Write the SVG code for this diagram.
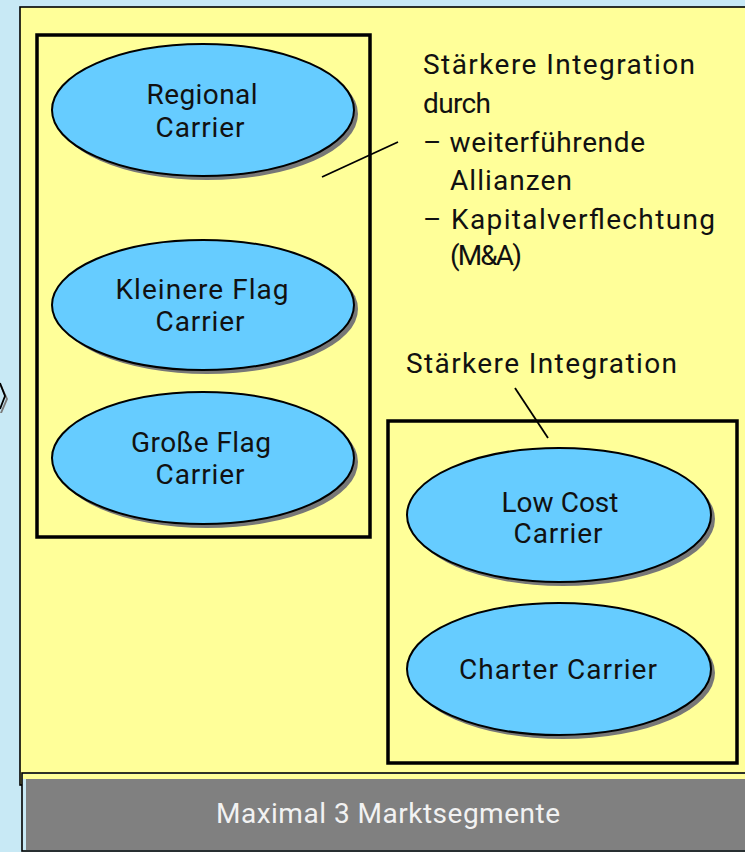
<svg xmlns="http://www.w3.org/2000/svg" width="745" height="852" viewBox="0 0 745 852">
<style>
.t{font-family:Roboto,"DejaVu Sans","Liberation Sans",sans-serif;font-size:28px;fill:#111}
.c{text-anchor:middle}
.el{fill:#66ccff;stroke:#000;stroke-width:2}
.sh{fill:#777}
.box{fill:none;stroke:#000;stroke-width:3.5}
.ln{stroke:#000;stroke-width:1.8;fill:none}
</style>
<rect x="0" y="0" width="745" height="852" fill="#c8e9f5"/>
<g id="chevron">
<polygon points="0,386 6,399 0,413 2,413 8,399 2,386" fill="#7a7a7a"/>
<polyline points="0,383 5,396 0,409" class="ln"/>
</g>
<g id="panel">
<rect x="20" y="7" width="740" height="778" fill="#ffff99" stroke="#000" stroke-width="1.6"/>
</g>
<g id="group-left">
<rect x="37" y="35" width="333" height="502" class="box"/>
</g>
<g id="group-right">
<rect x="388" y="421" width="349" height="342" class="box"/>
</g>
<g id="connectors">
<line x1="322" y1="177" x2="398" y2="142" class="ln"/>
<line x1="515" y1="388" x2="548" y2="438" class="ln"/>
</g>
<g id="n-regional">
<ellipse cx="207" cy="114" rx="151" ry="66" class="sh"/>
<ellipse cx="203" cy="110" rx="151" ry="66" class="el"/>
<text class="t c" x="202" y="104" textLength="111">Regional</text>
<text class="t c" x="200" y="137" textLength="89">Carrier</text>
</g>
<g id="n-kleinere">
<ellipse cx="207" cy="309" rx="151" ry="65" class="sh"/>
<ellipse cx="203" cy="305" rx="151" ry="65" class="el"/>
<text class="t c" x="202" y="299" textLength="173">Kleinere Flag</text>
<text class="t c" x="200" y="331" textLength="89">Carrier</text>
</g>
<g id="n-grosse">
<ellipse cx="207" cy="462" rx="151" ry="66" class="sh"/>
<ellipse cx="203" cy="458" rx="151" ry="66" class="el"/>
<text class="t c" x="201" y="452" textLength="140">Große Flag</text>
<text class="t c" x="200" y="484" textLength="89">Carrier</text>
</g>
<g id="n-lowcost">
<ellipse cx="563" cy="519" rx="152" ry="67" class="sh"/>
<ellipse cx="559" cy="515" rx="152" ry="67" class="el"/>
<text class="t c" x="560" y="512" textLength="117">Low Cost</text>
<text class="t c" x="558" y="543" textLength="89">Carrier</text>
</g>
<g id="n-charter">
<ellipse cx="563" cy="673" rx="152" ry="66" class="sh"/>
<ellipse cx="559" cy="669" rx="152" ry="66" class="el"/>
<text class="t c" x="558" y="679" textLength="198">Charter Carrier</text>
</g>
<g id="label-top">
<text class="t" x="423" y="74" textLength="272">Stärkere Integration</text>
<text class="t" x="423" y="113" textLength="68">durch</text>
<text class="t" x="423" y="152" textLength="222">– weiterführende</text>
<text class="t" x="450" y="190" textLength="122">Allianzen</text>
<text class="t" x="423" y="229" textLength="292">– Kapitalverflechtung</text>
<text class="t" x="450" y="265" textLength="72">(M&amp;A)</text>
</g>
<g id="label-right">
<text class="t" x="406" y="373" textLength="271">Stärkere Integration</text>
</g>
<g id="footer">
<rect x="22" y="773" width="730" height="78" fill="#c8e9f5" stroke="#000" stroke-width="1.6"/>
<rect x="23" y="774" width="730" height="5" fill="#ffff99"/>
<rect x="26" y="779" width="725" height="71" fill="#808080"/>
<text class="t c" x="388" y="823" textLength="344" style="fill:#f2f2f2">Maximal 3 Marktsegmente</text>
</g>
</svg>
